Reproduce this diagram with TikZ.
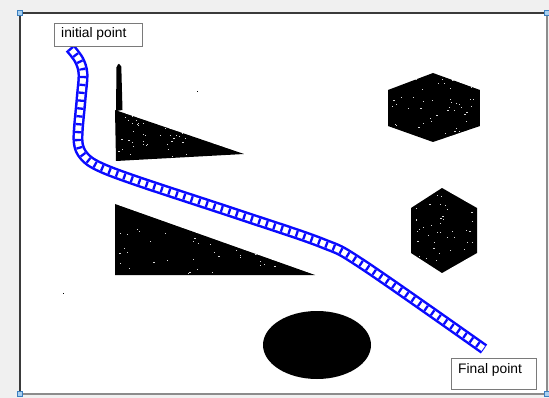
\documentclass[tikz,border=0pt]{standalone}
\usepackage{fontspec}
\setmainfont{Liberation Sans}
\definecolor{panelbg}{HTML}{F0F0F0}
\definecolor{edgedark}{HTML}{3A3A3A}
\definecolor{edgegray}{HTML}{8C8C8C}
\definecolor{boxgray}{HTML}{7A7A7A}
\definecolor{routeblue}{HTML}{0A0AFF}
\definecolor{handleblue}{HTML}{3C7FC0}
\definecolor{handlefill}{HTML}{A8D0F0}
\begin{document}
\begin{tikzpicture}[x=1pt,y=-1pt,
  labelbox/.style={draw=boxgray, line width=1.2pt, fill=white, inner sep=0pt, anchor=north west},
  labeltext/.style={font=\fontsize{13.8}{16}\selectfont, inner sep=0pt, anchor=base west},
  handle/.style={draw=handleblue, fill=handlefill, line width=0.6pt, minimum size=5pt, inner sep=0pt},
  ladder/.style={draw=routeblue, line width=11pt, line cap=butt, line join=round,
    postaction={draw=white, line width=6pt},
    postaction={draw=routeblue, line width=6pt, dash pattern=on 2.3pt off 5.6pt}},
  solid/.style={fill=black}]

% window background and canvas
\useasboundingbox (0,0) rectangle (549,398);
\fill[panelbg] (0,0) rectangle (549,398);
\fill[white] (20,13) rectangle (547,394);
\draw[edgegray, line width=1.6pt] (547,13) -- (547,394) -- (20,394);
\draw[edgedark, line width=1.2pt] (20,394) -- (20,13) -- (547,13);

% obstacles, with their light grain
\newcommand\speckle[5]{% seed, xmin, ymin, xmax, ymax
  \pgfmathsetseed{#1}
  \foreach \k in {1,...,45}{
    \pgfmathsetmacro\sx{#2+rnd*(#4-#2)}
    \pgfmathsetmacro\sy{#3+rnd*(#5-#3)}
    \fill[white, opacity=0.85] (\sx,\sy) rectangle ++(1.2,0.7);
  }}

\fill[solid] (116.5,67) to[out=-85,in=180] (119,63.8) to[out=0,in=-95] (121.3,66.5) -- (122.5,110) -- (116,111) -- cycle;
\begin{scope}
  \clip (115,110) -- (244,154) -- (116,161) -- cycle;
  \fill[solid] (115,110) -- (244,154) -- (116,161) -- cycle;
  \speckle{11}{118}{114}{200}{158}
\end{scope}
\begin{scope}
  \clip (115,204) -- (315,275) -- (115,275) -- cycle;
  \fill[solid] (115,204) -- (315,275) -- (115,275) -- cycle;
  \speckle{23}{118}{208}{290}{273}
\end{scope}
\begin{scope}
  \clip (433,73) -- (480,90) -- (480,126) -- (433,142) -- (388,126) -- (388,90) -- cycle;
  \fill[solid] (433,73) -- (480,90) -- (480,126) -- (433,142) -- (388,126) -- (388,90) -- cycle;
  \speckle{37}{392}{78}{476}{138}
\end{scope}
\begin{scope}
  \clip (442,188) -- (477,208) -- (477,253) -- (442,273) -- (411,253) -- (411,208) -- cycle;
  \fill[solid] (442,188) -- (477,208) -- (477,253) -- (442,273) -- (411,253) -- (411,208) -- cycle;
  \speckle{41}{414}{192}{474}{268}
\end{scope}
\fill[solid] (317,345) ellipse [x radius=54, y radius=34];

% stray pixels
\fill[black] (197,91) rectangle ++(1,1);
\fill[black] (63,293) rectangle ++(1,1);

% route between the two end points
\coordinate (routestart) at (70,48);
\coordinate (routeend) at (484,349);
\draw[ladder] plot[smooth, tension=0.55] coordinates {(routestart) (79,60) (83,74) (81,100) (78,140) (84,156) (100,167) (140,182) (240,215) (322,243) (362,264) (routeend)};

% labels
\node[labelbox, minimum width=88pt, minimum height=23pt] (startbox) at (54,23) {};
\node[labeltext] (starttext) at (61,38) {initial point};
\node[labelbox, minimum width=85pt, minimum height=31pt] (endbox) at (451,358) {};
\node[labeltext] (endtext) at (458,373) {Final point};

% selection handles on the canvas corners
\node[handle] (h1) at (20,13) {};
\node[handle] (h2) at (547,13) {};
\node[handle] (h3) at (20,394) {};
\node[handle] (h4) at (547,394) {};
\end{tikzpicture}
\end{document}
